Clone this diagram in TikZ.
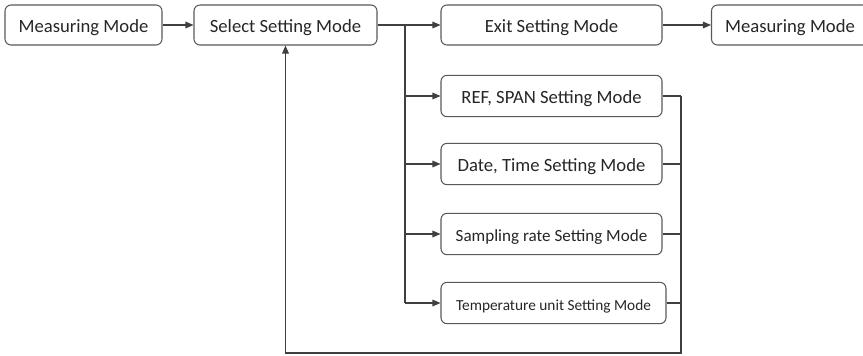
\documentclass[tikz,border=0pt]{standalone}
\usepackage{fontspec}
\setmainfont{Carlito}
\usetikzlibrary{arrows.meta,positioning,calc}

\begin{document}
\begin{tikzpicture}[x=0.75pt,y=-0.75pt,
  mode/.style={draw=black!65, rounded corners=4.5pt, line width=0.8pt, minimum height=30pt, inner sep=0pt, text height=11pt, text depth=0pt, text=black!85, font=\fontsize{14}{16}\selectfont},
  wire/.style={draw=black!75, line width=0.8pt},
  arr/.style={wire, -{Triangle[length=6pt,width=5pt]}}
]
\useasboundingbox (0,0) rectangle (863,355);
% top row
\node[mode, minimum width=117.75pt] (meas) at (83.5,25) {Measuring Mode};
\node[mode, minimum width=137.25pt] (sel) at (285.5,25) {Select Setting Mode};
\node[mode, minimum width=165.75pt] (exit) at (551.5,25) {Exit Setting Mode};
\node[mode, minimum width=117.75pt] (meas2) at (790,25) {Measuring Mode};
\coordinate (split) at (405,25);
\coordinate (join) at (681,353);
% setting modes
\foreach \n/\x/\y/\w/\fs/\t in {ref/551.5/96/165.75/14/{REF, SPAN Setting Mode},
    date/551.5/164/165.75/14/{Date, Time Setting Mode},
    samp/551.5/234/165.75/12.8/{Sampling rate Setting Mode},
    temp/553.5/303/168.75/11.5/{Temperature unit Setting Mode}} {
  \node[mode, minimum width=\w pt, minimum height=31pt, font=\fontsize{\fs}{16}\selectfont] (\n) at (\x,\y) {\t};
  \draw[arr] (split |- \n.west) -- (\n.west);
  \draw[wire] (\n.east) -- (\n.east -| join);
}
\draw[arr] (meas) -- (sel);
\draw[arr] (sel) -- (exit);
\draw[arr] (exit) -- (meas2);
\draw[wire] (split) -- (split |- temp.west);
\draw[arr] (join |- ref.east) -- (join) -| (sel.south);
\end{tikzpicture}
\end{document}
